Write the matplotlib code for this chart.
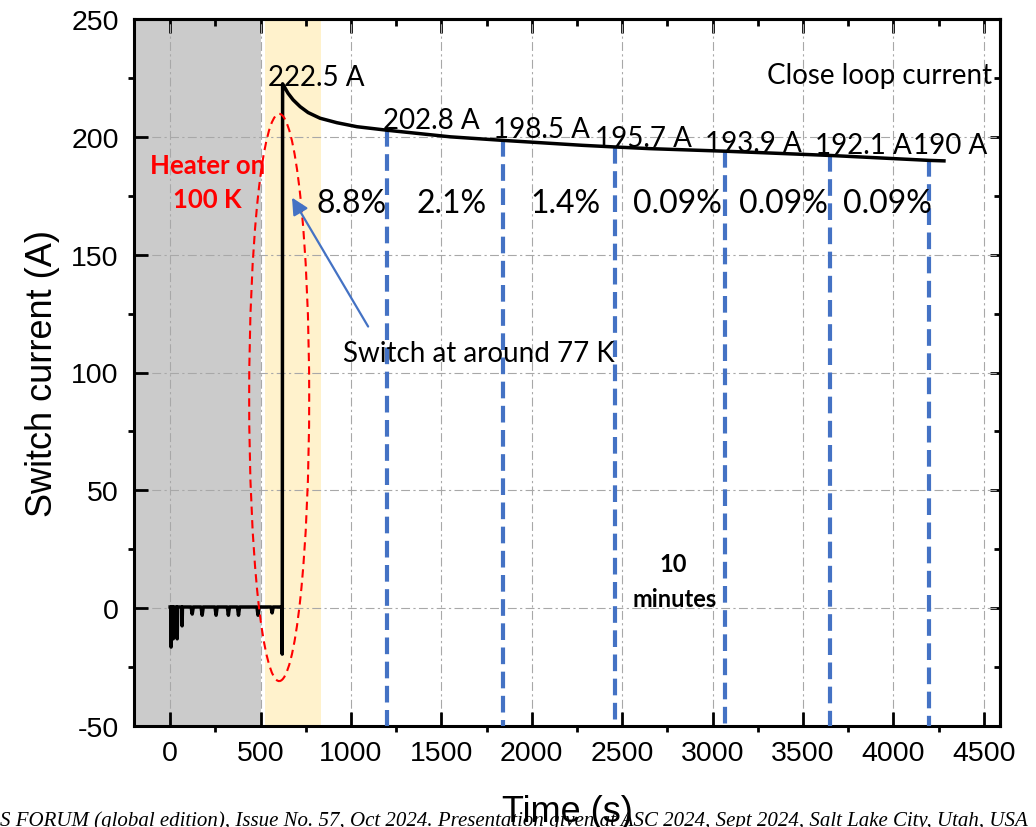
import matplotlib
matplotlib.use("Agg")
import matplotlib.pyplot as plt
from matplotlib.patches import Ellipse
from matplotlib.ticker import MultipleLocator

plt.rcParams["axes.unicode_minus"] = False

# ---- measured switch current ----
# small negative spikes while the heater is on (time s, current A)
spike_time = [5, 17, 39, 66, 122, 177, 254, 322, 378, 486, 564]
spike_depth = [-16.5, -13.0, -13.0, -7.5, -2.5, -3.0, -3.0, -3.0, -3.0, -3.0, -2.0]
baseline_current = 0.5

# switching event
switch_time = 620
switch_dip = -19.5

# closed-loop current decay after switching
decay_time = [622, 652, 680, 719, 763, 829, 922, 1033, 1200, 1550, 1840, 2280,
              2460, 2650, 3070, 3650, 4200, 4280]
decay_current = [222.5, 218.5, 215.7, 212.8, 210.3, 207.9, 206.0, 204.3, 202.8,
                 200.0, 198.5, 196.4, 195.7, 195.0, 193.9, 192.1, 190.0, 189.8]

# 10-minute checkpoints
check_time = [1200, 1840, 2460, 3070, 3650, 4200]
check_current = [202.8, 198.5, 195.7, 193.9, 192.1, 190.0]
drop_pct = [8.8, 2.1, 1.4, 0.09, 0.09, 0.09]

peak_time = 622
peak_current = 222.5

# shaded phases
heater_span = (-200, 500)
transition_span = (525, 835)

x_ticks = list(range(0, 4501, 500))
y_ticks = list(range(-50, 251, 50))

# ---- figure ----
fig = plt.figure(figsize=(10.36, 8.28), dpi=100)
ax = fig.add_axes([134 / 1036, 101 / 828, 866 / 1036, 707 / 828])
ax.set_xlim(-200, 4590)
ax.set_ylim(-50, 250)

ax.axvspan(*heater_span, color="#cbcbcb", zorder=0, lw=0)
ax.axvspan(*transition_span, color="#fff2cc", zorder=0, lw=0)

ax.set_xticks(x_ticks)
ax.set_yticks(y_ticks)
ax.xaxis.set_minor_locator(MultipleLocator(250))
ax.yaxis.set_minor_locator(MultipleLocator(25))
ax.grid(True, which="major", color="#a8a8a8", lw=0.8,
        linestyle=(0, (8, 3, 2, 3)), zorder=1)
ax.set_axisbelow(True)

ax.tick_params(which="major", direction="in", length=10, width=2,
               top=False, right=False)
ax.tick_params(which="minor", direction="out", length=4.5, width=2,
               top=False, right=False)
ax.tick_params(axis="y", which="major", pad=11)
ax.tick_params(axis="x", which="major", pad=10)
for lab in ax.get_xticklabels() + ax.get_yticklabels():
    lab.set_fontfamily("Liberation Sans")
    lab.set_fontsize(20.5)

for sp in ax.spines.values():
    sp.set_linewidth(2.2)

# mirrored ticks on the top and right, all pointing inward
top = ax.secondary_xaxis("top")
top.set_xticks(x_ticks)
top.xaxis.set_minor_locator(MultipleLocator(250))
top.tick_params(which="major", direction="in", length=10, width=2, labeltop=False)
top.tick_params(which="minor", direction="in", length=5, width=2)
top.spines["top"].set_linewidth(2.2)
right = ax.secondary_yaxis("right")
right.set_yticks(y_ticks)
right.yaxis.set_minor_locator(MultipleLocator(25))
right.tick_params(which="major", direction="in", length=7, width=2, labelright=False)
right.tick_params(which="minor", direction="in", length=4, width=2)
right.spines["right"].set_linewidth(2.2)

ax.set_xlabel("Time (s)", fontfamily="Liberation Sans", fontsize=26)
ax.set_ylabel("Switch current (A)", fontfamily="Liberation Sans", fontsize=26)
ax.xaxis.set_label_coords(0.5, -0.096)
ax.yaxis.set_label_coords(-0.085, 0.5)

# ---- trace ----
trace_t = [0]
trace_i = [baseline_current]
for ts, d in zip(spike_time, spike_depth):
    w = 2 if d < -5 else 6
    trace_t += [ts - w, ts, ts + w]
    trace_i += [baseline_current, d, baseline_current]
trace_t += [switch_time - 1, switch_time]
trace_i += [baseline_current, switch_dip]
trace_t += decay_time
trace_i += decay_current
ax.plot(trace_t, trace_i, color="black", lw=2.5, zorder=4,
        solid_joinstyle="round")

# checkpoint markers
for t, v in zip(check_time, check_current):
    ax.plot([t, t], [v, -50], color="#4472c4", lw=3,
            linestyle=(0, (4, 1.8)), zorder=3, clip_on=False)

# ---- annotations ----
ann_font = "Lato"
ax.text(peak_time - 80, peak_current - 0.5, f"{peak_current:g} A",
        fontfamily=ann_font, fontsize=20, ha="left", va="baseline", zorder=5)
label_x = [1177, 1785, 2349, 2957, 3565, 4107]
label_y = [203.8, 200.1, 195.9, 193.8, 193.1, 193.1]
for lx, ly, v in zip(label_x, label_y, check_current):
    ax.text(lx, ly, f"{v:g} A", fontfamily=ann_font, fontsize=20,
            ha="left", va="baseline", zorder=5)

pct_x = [1006, 1559, 2189, 2808, 3394, 3969]
for px, p in zip(pct_x, drop_pct):
    ax.text(px, 168, f"{p:g}%", fontfamily=ann_font, fontsize=23,
            ha="center", va="baseline", zorder=5)

ax.text(4544, 222.9, "Close loop current", fontfamily=ann_font, fontsize=20,
        ha="right", va="baseline", zorder=5)

ax.text(208, 184.7, "Heater on", fontfamily=ann_font, fontsize=18.5,
        fontweight="bold", color="red", ha="center", va="baseline", zorder=5)
ax.text(208, 170.3, "100 K", fontfamily=ann_font, fontsize=18.5,
        fontweight="bold", color="red", ha="center", va="baseline", zorder=5)

ax.add_patch(Ellipse((603, 89.4), width=332, height=240.7, fill=False,
                     edgecolor="red", lw=1.5, linestyle=(0, (4, 2.5)), zorder=5))

ax.text(956, 105, "Switch at around 77 K", fontfamily=ann_font, fontsize=20,
        ha="left", va="baseline", zorder=5)
ax.annotate("", xy=(674, 174.2), xytext=(1095, 119.5),
            arrowprops=dict(arrowstyle="-|>,head_length=1.0,head_width=0.5",
                            color="#4472c4", lw=1.6, shrinkA=0, shrinkB=0),
            zorder=5)

ax.text(2780, 15.7, "10", fontfamily=ann_font, fontsize=17, fontweight="bold",
        ha="center", va="baseline", zorder=5)
ax.text(2790, 0.8, "minutes", fontfamily=ann_font, fontsize=17, fontweight="bold",
        ha="center", va="baseline", zorder=5)

fig.text(0.0, 0.003,
         "S FORUM (global edition), Issue No. 57, Oct 2024. Presentation given at "
         "ASC 2024, Sept 2024, Salt Lake City, Utah, USA",
         fontfamily="Liberation Serif", fontstyle="italic", fontsize=15,
         ha="left", va="baseline", zorder=0)

fig.savefig("out.png", dpi=100)
